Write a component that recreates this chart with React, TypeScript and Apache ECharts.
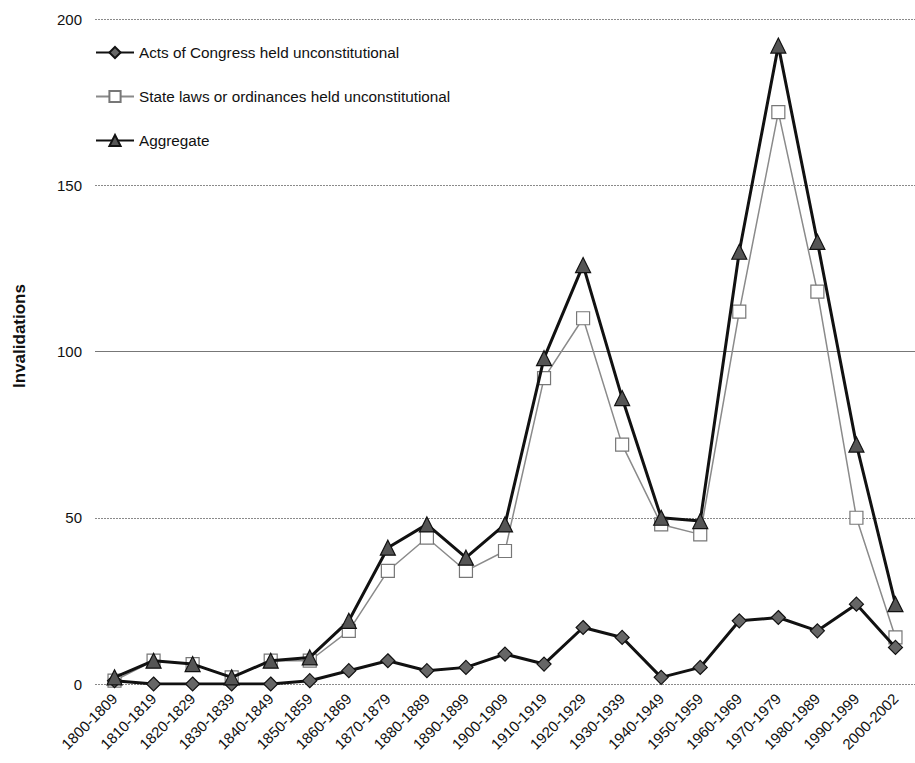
import React, { useEffect, useRef } from "react";
import * as echarts from "echarts";

const categories = [
  "1800-1809", "1810-1819", "1820-1829", "1830-1839", "1840-1849", "1850-1859",
  "1860-1869", "1870-1879", "1880-1889", "1890-1899", "1900-1909", "1910-1919",
  "1920-1929", "1930-1939", "1940-1949", "1950-1959", "1960-1969", "1970-1979",
  "1980-1989", "1990-1999", "2000-2002",
];

const actsOfCongress = [1, 0, 0, 0, 0, 1, 4, 7, 4, 5, 9, 6, 17, 14, 2, 5, 19, 20, 16, 24, 11];
const stateLaws = [1, 7, 6, 2, 7, 7, 16, 34, 44, 34, 40, 92, 110, 72, 48, 45, 112, 172, 118, 50, 14];
const aggregate = [2, 7, 6, 2, 7, 8, 19, 41, 48, 38, 48, 98, 126, 86, 50, 49, 130, 192, 133, 72, 24];

const seriesNames = [
  "Acts of Congress held unconstitutional",
  "State laws or ordinances held unconstitutional",
  "Aggregate",
];

const yTicks = { min: 0, max: 200, interval: 50 };
const yTitle = "Invalidations";

const FONT = "'Liberation Sans', Arial, sans-serif";

export default function App() {
  const ref = useRef<HTMLDivElement>(null);

  useEffect(() => {
    if (!ref.current) return;
    const chart = echarts.init(ref.current, null, { renderer: "svg" });

    const legendTops = [45, 89, 133];
    const option: any = {
      animation: false,
      backgroundColor: "#ffffff",
      textStyle: { fontFamily: FONT },
      grid: { left: 95, top: 19, width: 831, height: 665, containLabel: false },
      legend: seriesNames.map((n, i) => ({
        data: [n],
        orient: "vertical",
        left: 95,
        top: legendTops[i],
        padding: 0,
        itemWidth: 38,
        itemHeight: 14,
        itemGap: 0,
        selectedMode: false,
        textStyle: { fontSize: 15.3, color: "#111", fontFamily: FONT },
      })),
      xAxis: {
        type: "category",
        data: categories,
        boundaryGap: true,
        axisLine: { show: false },
        axisTick: { show: false },
        axisLabel: {
          rotate: 45,
          fontSize: 15,
          color: "#111",
          margin: 12,
          interval: 0,
          fontFamily: FONT,
        },
        splitLine: { show: false },
      },
      yAxis: {
        type: "value",
        min: yTicks.min,
        max: yTicks.max,
        interval: yTicks.interval,
        axisLine: { show: false },
        axisTick: { show: false },
        axisLabel: { fontSize: 15, color: "#111", margin: 13, fontFamily: FONT },
        splitLine: { show: true, lineStyle: { color: "#8a8a8a", type: [2, 1], width: 1 } },
      },
      graphic: [
        {
          type: "text",
          x: 19,
          y: 336,
          rotation: Math.PI / 2,
          style: {
            text: yTitle,
            fontSize: 17,
            fontWeight: "bold",
            fill: "#111",
            fontFamily: FONT,
            textAlign: "center",
            textVerticalAlign: "middle",
          },
        },
      ],
      series: [
        {
          name: seriesNames[0],
          type: "line",
          data: actsOfCongress,
          symbol: "diamond",
          symbolSize: 14,
          z: 3,
          lineStyle: { color: "#111", width: 3 },
          itemStyle: { color: "#666", borderColor: "#111", borderWidth: 1.2 },
          markLine: {
            silent: true,
            symbol: "none",
            label: { show: false },
            lineStyle: { color: "#777", type: "solid", width: 1 },
            data: [{ yAxis: 100 }],
            z: 1,
          },
        },
        {
          name: seriesNames[1],
          type: "line",
          data: stateLaws,
          symbol: "rect",
          symbolSize: 13,
          z: 2,
          lineStyle: { color: "#8a8a8a", width: 1.5 },
          itemStyle: { color: "#ffffff", borderColor: "#777", borderWidth: 1.2 },
        },
        {
          name: seriesNames[2],
          type: "line",
          data: aggregate,
          symbol: "triangle",
          symbolSize: 15,
          z: 4,
          lineStyle: { color: "#111", width: 3 },
          itemStyle: { color: "#555", borderColor: "#111", borderWidth: 1.2 },
        },
      ],
    };

    chart.setOption(option);
    return () => chart.dispose();
  }, []);

  return (
    <div
      ref={ref}
      style={{ position: "fixed", left: 0, top: 0, width: 915, height: 763, background: "#fff" }}
    />
  );
}
